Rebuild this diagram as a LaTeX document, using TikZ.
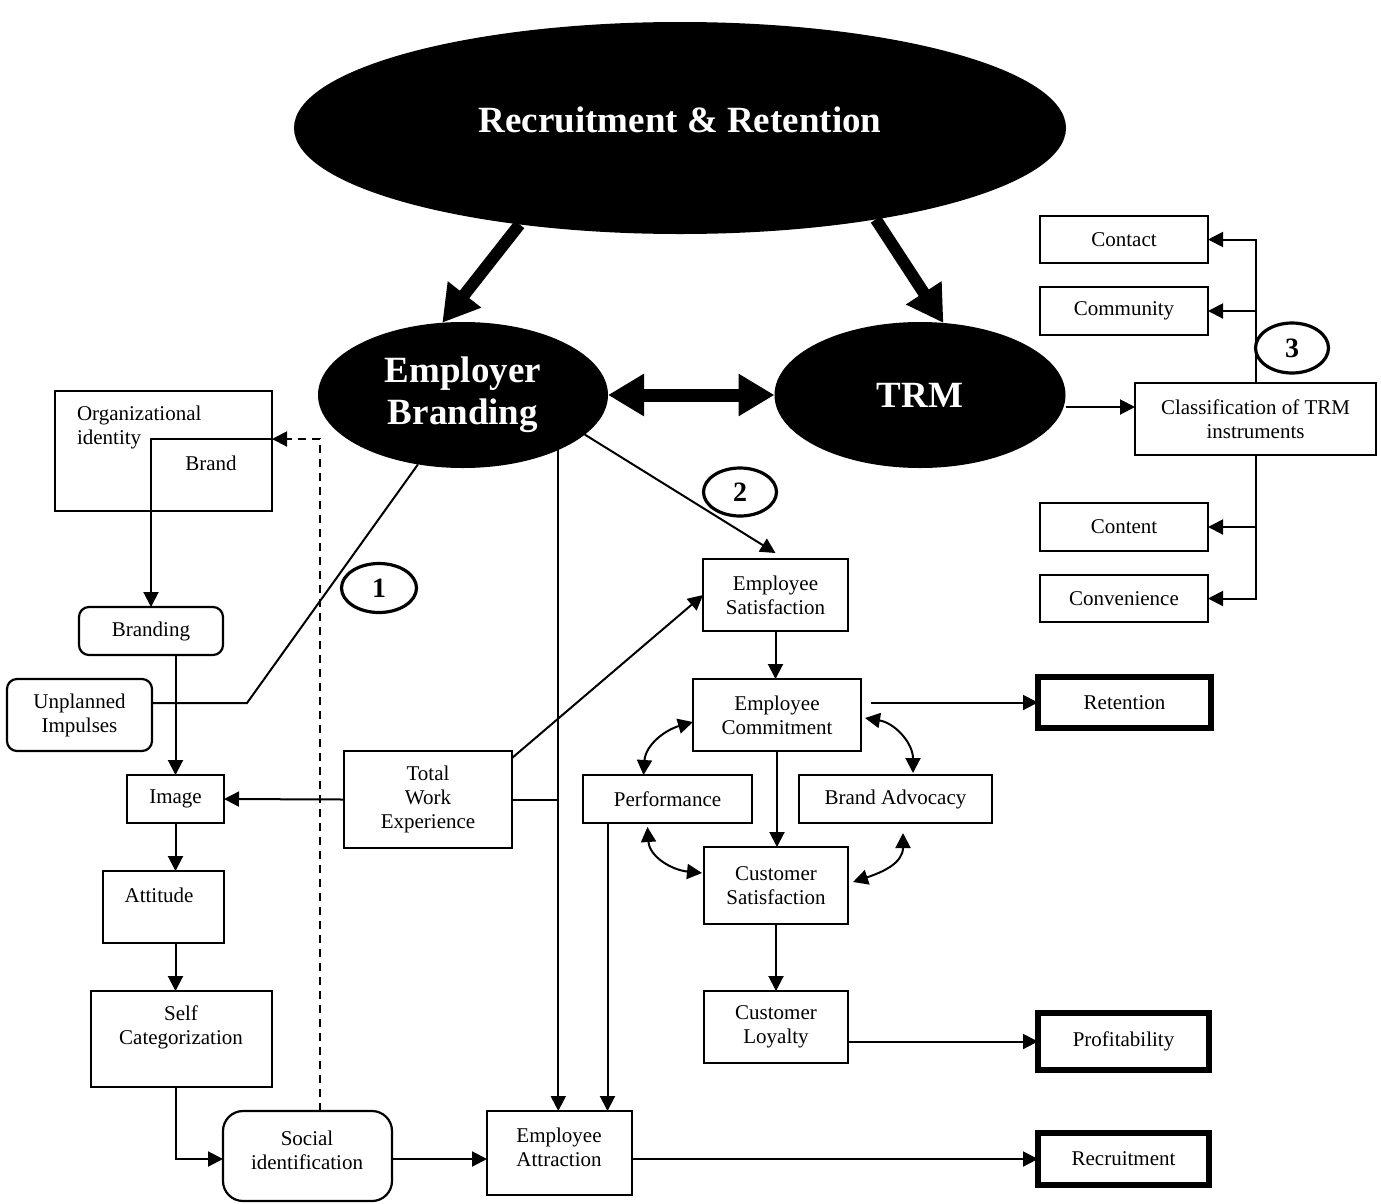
\documentclass[tikz,border=0pt]{standalone}
\usepackage{fontspec}
\setmainfont{Liberation Serif}
\usetikzlibrary{arrows.meta,shapes.geometric,calc}

\begin{document}
\begin{tikzpicture}[x=1pt,y=-1pt,
  every node/.style={inner sep=0pt, outer sep=0pt},
  txt/.style={font=\fontsize{21}{24}\selectfont, align=center},
  box/.style={draw, line width=2.2pt, rectangle, txt},
  rbox/.style={box, rounded corners=10pt},
  goal/.style={draw, line width=5.5pt, rectangle, txt},
  oval/.style={ellipse, fill=black, text=white, align=center,
               font=\bfseries\fontsize{37}{42}\selectfont},
  num/.style={ellipse, draw, line width=3.2pt, font=\bfseries\fontsize{28}{30}\selectfont},
  conn/.style={line width=2pt, -{Triangle[length=15pt,width=15pt]}},
  link/.style={line width=2pt},
  both/.style={line width=2pt, {Triangle[length=15pt,width=15pt]}-{Triangle[length=15pt,width=15pt]}},
  heavy/.style={line width=12pt, -{Triangle[length=36pt,width=40pt]}},
  heavyboth/.style={line width=13pt, {Triangle[length=36pt,width=40pt]}-{Triangle[length=36pt,width=40pt]}},
  feedback/.style={dash pattern=on 8pt off 6pt},
]
\useasboundingbox (0,0) rectangle (1381,1203);

% --- top level ovals
\node[oval, minimum width=772pt, minimum height=212pt] (rr) at (680,128) {};
\node[text=white, font=\bfseries\fontsize{37}{42}\selectfont] (rrT) at (680,120) {Recruitment \& Retention};
\node[oval, minimum width=290pt, minimum height=146pt] (eb) at (463,395) {Employer\\Branding};
\node[oval, minimum width=291pt, minimum height=146pt] (trm) at (920,395) {TRM};

\draw[heavy] (rr.211.7) -- (eb.106.3);
\draw[heavy] (rr.335.2) -- (trm.72.3);
\draw[heavyboth] (eb.east) -- (trm.west);

% --- left column: employer branding chain
\node[box, minimum width=217pt, minimum height=120pt] (orgid) at (163.5,451) {};
\node[txt, anchor=west, align=left] (orgidT) at (77,427) {Organizational\\identity};
\node[txt] (brandT) at (211,463) {Brand};
\node[rbox, minimum width=144pt, minimum height=48pt] (branding) at (151,631) {Branding};
\node[rbox, minimum width=145pt, minimum height=72pt] (unpl) at (79.5,715) {Unplanned\\Impulses};
\node[box, minimum width=97pt, minimum height=48pt] (image) at (175.5,799) {Image};
\node[box, minimum width=121pt, minimum height=72pt] (attitude) at (163.5,907) {};
\node[txt] (attitudeT) at (159,895) {Attitude};
\node[box, minimum width=181pt, minimum height=96pt] (selfcat) at (181.5,1039) {};
\node[txt] (selfcatT) at (181,1027) {Self\\Categorization};
\node[box, rounded corners=20pt, minimum width=169pt, minimum height=90pt] (socid) at (307.5,1156) {};
\node[txt] (socidT) at (307,1150) {Social\\identification};
\node[box, minimum width=145pt, minimum height=84pt] (attract) at (559.5,1153) {};
\node[txt] (attractT) at (559,1147) {Employee\\Attraction};
\node[box, minimum width=168pt, minimum height=97pt] (twe) at (428,799.5) {Total\\Work\\Experience};

% --- centre column
\node[box, minimum width=145pt, minimum height=72pt] (esat) at (775.5,595) {Employee\\Satisfaction};
\node[box, minimum width=168pt, minimum height=72pt] (ecom) at (777,715) {Employee\\Commitment};
\node[box, minimum width=169pt, minimum height=48pt] (perf) at (667.5,799) {Performance};
\node[box, minimum width=193pt, minimum height=48pt] (badv) at (895.5,799) {Brand Advocacy};
\node[box, minimum width=144pt, minimum height=77pt] (csat) at (776,885.5) {Customer\\Satisfaction};
\node[box, minimum width=144pt, minimum height=72pt] (cloy) at (776,1027) {Customer\\Loyalty};

% --- outcomes
\node[goal, minimum width=173pt, minimum height=51pt] (retention) at (1124.5,702.5) {Retention};
\node[goal, minimum width=171pt, minimum height=57pt] (profit) at (1123.5,1041.5) {Profitability};
\node[goal, minimum width=171pt, minimum height=52pt] (recruit) at (1123.5,1159) {Recruitment};

% --- TRM instruments
\node[box, minimum width=241pt, minimum height=72pt] (classif) at (1255.5,419) {Classification of TRM\\instruments};
\node[box, minimum width=168pt, minimum height=47pt] (contact) at (1124,239.5) {Contact};
\node[box, minimum width=168pt, minimum height=48pt] (community) at (1124,311) {Community};
\node[box, minimum width=168pt, minimum height=48pt] (content) at (1124,527) {Content};
\node[box, minimum width=168pt, minimum height=47pt] (convenience) at (1124,598.5) {Convenience};

% --- numbered markers
\node[num, minimum width=75pt, minimum height=49pt] (n1) at (379,588) {1};
\node[num, minimum width=73pt, minimum height=48pt] (n2) at (740,492) {2};
\node[num, minimum width=73pt, minimum height=50pt] (n3) at (1292,348) {3};

% --- helper points
\coordinate (oi) at ([yshift=12pt]orgid.east);
\coordinate (ebv) at (eb.330.9);
\coordinate (pa) at ([xshift=48pt]attract.north);
\coordinate (ub) at (247,703);
\coordinate (cl) at ([yshift=12pt]classif.west);

% --- left chain connectors
\draw[conn] (oi) -| (branding.north);
\draw[conn, feedback] ([xshift=12.5pt]socid.north) |- (oi);
\draw[conn] (image.north |- branding.south) -- (image.north);
\draw[link] ([yshift=12pt]unpl.east) -- (ub) -- (eb.237.4);
\draw[conn] (image.south) -- (image.south |- attitude.north);
\draw[conn] (image.south |- attitude.south) -- (image.south |- selfcat.north);
\draw[conn] (image.south |- selfcat.south) |- (socid.west |- recruit.west);
\draw[conn] (socid.east |- recruit.west) -- (attract.west |- recruit.west);
\draw[conn] (twe.west) -- (image.east);
\draw[link] (twe.east) -- (twe.east -| ebv);
\draw[conn] ([yshift=-7pt]twe.north east) -- (esat.west);

% --- employer branding links
\draw[conn] (ebv) -- (ebv |- attract.north);
\draw[conn] (eb.342.1) -- ([yshift=6pt]esat.north);
\draw[conn] (perf.south -| pa) -- (pa);

% --- centre chain
\draw[conn] (esat.south) -- (esat.south |- ecom.north);
\draw[conn] (ecom.south) -- (ecom.south |- csat.north);
\draw[conn] (csat.south) -- (csat.south |- cloy.north);
\draw[both] ([xshift=-24pt]perf.north) .. controls +(2,-30) and +(-28,8) .. ([yshift=-7pt]ecom.west);
\draw[both] ([xshift=4pt,yshift=-3pt]ecom.east) .. controls +(30,5) and +(0,-30) .. ([xshift=17.5pt,yshift=2pt]badv.north);
\draw[both] ([xshift=-20pt,yshift=-4pt]perf.south) .. controls +(2,30) and +(-30,-3) .. ([xshift=-2pt,yshift=12.5pt]csat.west);
\draw[both] ([xshift=7.5pt,yshift=-10pt]badv.south) .. controls +(0,30) and +(30,-10) .. ([xshift=5pt,yshift=3.5pt]csat.east);

% --- outcomes
\draw[conn] ([xshift=10pt]retention.west -| ecom.east) -- (retention.west);
\draw[conn] (profit.west -| cloy.east) -- (profit.west);
\draw[conn] (recruit.west -| attract.east) -- (recruit.west);

% --- TRM classification
\draw[conn] (cl -| trm.east) -- (cl);
\draw[conn] (classif.north) |- (contact.east);
\draw[conn] (classif.north |- community.east) -- (community.east);
\draw[conn] (classif.south) |- (convenience.east);
\draw[conn] (classif.south |- content.east) -- (content.east);
\end{tikzpicture}
\end{document}
